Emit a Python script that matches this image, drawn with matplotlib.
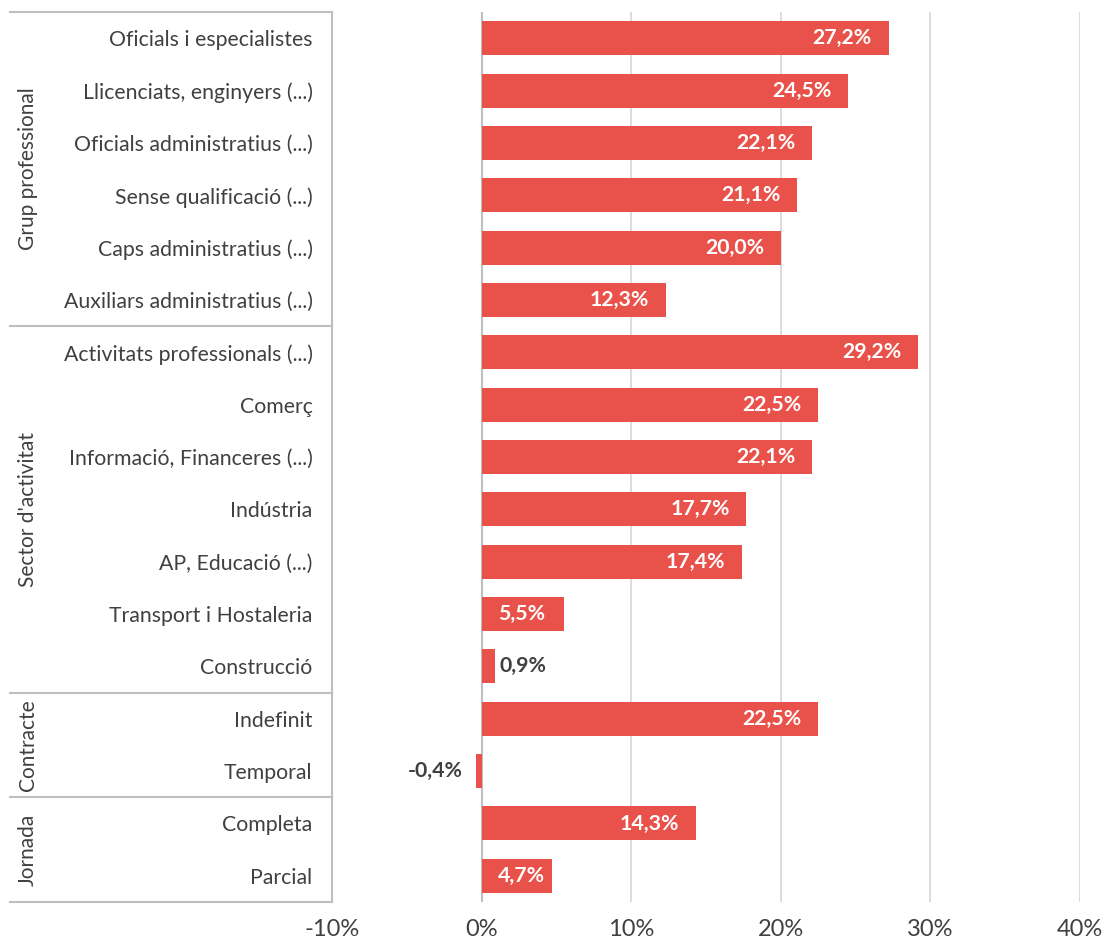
import numpy as np
import matplotlib.pyplot as plt
import matplotlib.transforms as mtransforms

plt.rcParams['font.family'] = ['Lato', 'DejaVu Sans']

categories = ['Oficials i especialistes', 'Llicenciats, enginyers (...)',
              'Oficials administratius (...)', 'Sense qualificació (...)',
              'Caps administratius (...)', 'Auxiliars administratius (...)',
              'Activitats professionals (...)', 'Comerç',
              'Informació, Financeres (...)', 'Indústria', 'AP, Educació (...)',
              'Transport i Hostaleria', 'Construcció',
              'Indefinit', 'Temporal',
              'Completa', 'Parcial']
values = [27.2, 24.5, 22.1, 21.1, 20.0, 12.3,
          29.2, 22.5, 22.1, 17.7, 17.4, 5.5, 0.9,
          22.5, -0.4,
          14.3, 4.7]
groups = ['Grup professional', "Sector d'activitat", 'Contracte', 'Jornada']
group_sizes = [6, 7, 2, 2]
xticks = [-10, 0, 10, 20, 30, 40]

bar_color = '#E9524A'
text_color = '#404040'

fig = plt.figure(figsize=(11.06, 9.44), dpi=100)
ax = fig.add_axes([332 / 1106, 42 / 944, 748 / 1106, 890 / 944])

y = np.arange(len(categories))
ax.barh(y, values, height=0.65, color=bar_color, zorder=3)

ax.set_xlim(-10, 40)
ax.set_ylim(len(categories) - 0.5, -0.5)
ax.set_xticks(xticks)
ax.set_xticklabels([f'{t}%' for t in xticks], fontsize=17, color=text_color)
ax.set_yticks(y)
ax.set_yticklabels(categories, fontsize=15.3, color=text_color)
ax.tick_params(axis='both', length=0)
ax.tick_params(axis='y', pad=14)
ax.tick_params(axis='x', pad=12)

for t in xticks[1:]:
    ax.axvline(t, color='#D9D9D9', lw=1.3, zorder=1)
ax.axvline(0, color='#BFBFBF', lw=1.5, zorder=2)

for s in ['top', 'right', 'bottom']:
    ax.spines[s].set_visible(False)
ax.spines['left'].set_color('#BFBFBF')
ax.spines['left'].set_linewidth(1.5)

# value labels
lab_kw = dict(textcoords='offset points', va='center', fontsize=15.3,
              fontweight='bold', zorder=4)
for yi, v in zip(y, values):
    lab = f'{v:.1f}%'.replace('.', ',')
    if v >= 6:
        ax.annotate(lab, (v, yi), xytext=(-12, 0), ha='right', color='white',
                    **lab_kw)
    elif v >= 3:
        # short bar: label starts near the bar base
        ax.annotate(lab, (0, yi), xytext=(12, 0), ha='left', color='white',
                    **lab_kw)
    elif v >= 0:
        ax.annotate(lab, (v, yi), xytext=(3, 0), ha='left', color=text_color,
                    **lab_kw)
    else:
        ax.annotate(lab, (v, yi), xytext=(-9, 0), ha='right', color=text_color,
                    **lab_kw)

# group separators and labels
trans = mtransforms.blended_transform_factory(ax.transAxes, ax.transData)
x0 = (10 - 332) / 748
bounds = np.concatenate([[0], np.cumsum(group_sizes)]) - 0.5
for b in bounds:
    ax.plot([x0, 0], [b, b], transform=trans, color='#BFBFBF', lw=1.5,
            clip_on=False)
for g, lo, hi in zip(groups, bounds[:-1], bounds[1:]):
    ax.text((28 - 332) / 748, (lo + hi) / 2, g, transform=trans, rotation=90,
            ha='center', va='center', fontsize=15, color=text_color)

fig.savefig('out.png', dpi=100)
